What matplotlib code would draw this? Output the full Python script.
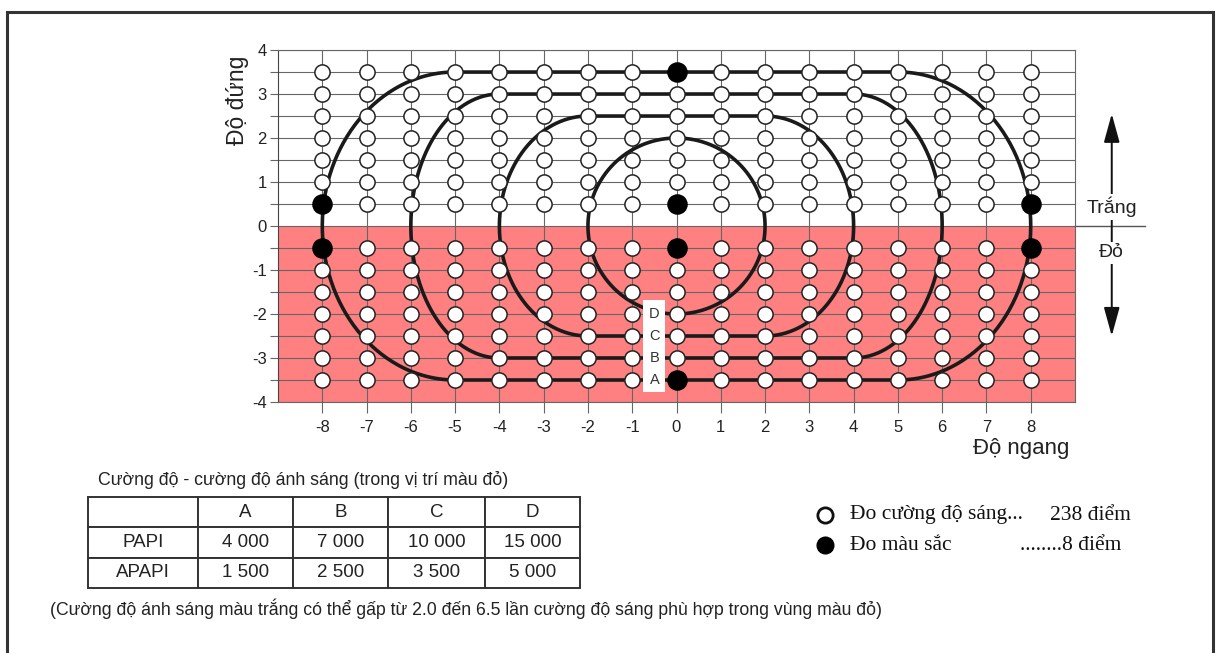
import numpy as np
import matplotlib
matplotlib.use("Agg")
import matplotlib.pyplot as plt
from matplotlib.patches import Rectangle

plt.rcParams['font.family'] = ['Liberation Sans', 'DejaVu Sans']
plt.rcParams['axes.unicode_minus'] = False

# ---------------- data ----------------
x_cols = list(range(-8, 9))
y_rows = [-3.5, -3.0, -2.5, -2.0, -1.5, -1.0, -0.5, 0.5, 1.0, 1.5, 2.0, 2.5, 3.0, 3.5]
color_x = [0, 0, 0, 0, -8, -8, 8, 8]
color_y = [3.5, 0.5, -0.5, -3.5, 0.5, -0.5, 0.5, -0.5]

curve_names = ['A', 'B', 'C', 'D']
curve_flat = [5, 4, 2, 0]        # half-length of straight top/bottom
curve_rx = [3, 2, 2, 2]          # horizontal radius of rounded ends
curve_ry = [3.5, 3, 2.5, 2]      # vertical half-height
label_y = [-3.5, -3.0, -2.5, -2.0]

x_ticks = list(range(-8, 9))
y_ticks = list(range(-4, 5))

tbl_cols = ['', 'A', 'B', 'C', 'D']
tbl_rows = ['PAPI', 'APAPI']
papi = [4000, 7000, 10000, 15000]
apapi = [1500, 2500, 3500, 5000]

n_intensity = 238
n_color = 8

# ---------------- figure ----------------
W, H = 1216, 653
fig = plt.figure(figsize=(W / 100, H / 100), dpi=100)

def fx(px):
    return px / W

def fy(py):
    return 1 - py / H

ax = fig.add_axes([fx(278), fy(402), fx(1075) - fx(278), fy(50) - fy(402)])
ax.set_xlim(-9, 9)
ax.set_ylim(-4, 4)

ax.axhspan(-4, 0, color='#FF8080', zorder=0, lw=0)

ax.set_xticks(x_ticks)
ax.set_yticks(y_ticks)
ax.set_yticks([v + 0.5 for v in y_ticks[:-1]], minor=True)
ax.grid(True, which='major', color='#666666', lw=0.8, zorder=1)
ax.grid(True, which='minor', axis='y', color='#666666', lw=0.8, zorder=1)
ax.set_axisbelow(True)
ax.tick_params(axis='x', which='major', length=8, width=0.8, color='#666666',
               labelsize=12, pad=5, labelcolor='#222222')
ax.tick_params(axis='y', which='both', length=6, width=0.8, color='#666666',
               labelsize=12, pad=2, labelcolor='#222222')
for s in ax.spines.values():
    s.set_color('#666666')
    s.set_linewidth(0.8)
ax.spines['left'].set_color('#444444')

# curves
for name, fl, rx, ry in zip(curve_names, curve_flat, curve_rx, curve_ry):
    t1 = np.linspace(-np.pi / 2, np.pi / 2, 200)
    t2 = np.linspace(np.pi / 2, 3 * np.pi / 2, 200)
    xs = np.concatenate([fl + rx * np.cos(t1), -fl + rx * np.cos(t2), [fl]])
    ys = np.concatenate([ry * np.sin(t1), ry * np.sin(t2), [-ry]])
    ax.plot(xs, ys, color='#1a1a1a', lw=2.6, zorder=3, solid_capstyle='round')

# measurement points
gx, gy = np.meshgrid(x_cols, y_rows)
ax.scatter(gx.ravel(), gy.ravel(), s=120, facecolor='white', edgecolor='#222222',
           linewidths=1.1, zorder=4)
ax.scatter(color_x, color_y, s=190, facecolor='black', edgecolor='black', zorder=5)

# D C B A label box
ax.add_patch(Rectangle((-0.75, -3.78), 0.5, 2.1, facecolor='white', edgecolor='none', zorder=3.5))
for name, yy in zip(curve_names, label_y):
    ax.text(-0.5, yy, name, ha='center', va='center', fontsize=10.5, color='#333333', zorder=6)

# axis labels
ax.text(-0.051, 0.858, 'Độ đứng', rotation=90, ha='center', va='center',
        fontsize=16.5, color='#222222', transform=ax.transAxes)
ax.text(0.933, -0.131, 'Độ ngang', ha='center', va='center',
        fontsize=16, color='#222222', transform=ax.transAxes)

# divider and arrows at right
ax.plot([9, 10.57], [0, 0], color='#555555', lw=1.0, clip_on=False, zorder=2)
ax.annotate('', xy=(9.83, 2.55), xytext=(9.83, -2.5),
            arrowprops=dict(arrowstyle='<|-|>,head_length=0.8,head_width=0.22',
                            color='#111111', lw=1.4,
                            mutation_scale=22, shrinkA=0, shrinkB=0),
            annotation_clip=False, zorder=2)
ax.text(9.83, 0.43, 'Trắng', ha='center', va='center', fontsize=14, color='#222222',
        bbox=dict(facecolor='white', edgecolor='none', pad=2), zorder=6, clip_on=False)
ax.text(9.83, -0.61, 'Đỏ', ha='center', va='center', fontsize=14, color='#222222',
        bbox=dict(facecolor='white', edgecolor='none', pad=2), zorder=6, clip_on=False)

# ---------------- table ----------------
fig.text(fx(98), fy(480), 'Cường độ - cường độ ánh sáng (trong vị trí màu đỏ)',
         ha='left', va='center', fontsize=12.8, color='#222222')

tax = fig.add_axes([fx(88), fy(588), fx(580) - fx(88), fy(497) - fy(588)])
tax.axis('off')

def fmt(v):
    return f"{v:,}".replace(',', ' ')

cell_text = [tbl_cols,
             [tbl_rows[0]] + [fmt(v) for v in papi],
             [tbl_rows[1]] + [fmt(v) for v in apapi]]
col_w = np.array([110, 95, 95, 97, 95], dtype=float)
col_w = list(col_w / col_w.sum())
tbl = tax.table(cellText=cell_text, cellLoc='center', colWidths=col_w,
                bbox=[0, 0, 1, 1])
tbl.auto_set_font_size(False)
for (r, c), cell in tbl.get_celld().items():
    cell.set_edgecolor('#333333')
    cell.set_linewidth(1.4)
    cell.get_text().set_fontsize(13.5)
    cell.get_text().set_color('#222222')

# ---------------- legend ----------------
fig.add_artist(plt.Line2D([fx(825)], [fy(515)], marker='o', ms=11, mfc='white',
                          mec='#111111', mew=2, ls='none', transform=fig.transFigure))
fig.add_artist(plt.Line2D([fx(825)], [fy(545)], marker='o', ms=12, mfc='black',
                          mec='black', ls='none', transform=fig.transFigure))
serif = ['Liberation Serif', 'DejaVu Serif']
fig.text(fx(850), fy(515), 'Đo cường độ sáng...', ha='left', va='center',
         fontsize=15.5, family=serif, color='#111111')
fig.text(fx(1050), fy(515), f'{n_intensity} điểm', ha='left', va='center',
         fontsize=15.5, family=serif, color='#111111')
fig.text(fx(850), fy(545), 'Đo màu sắc', ha='left', va='center',
         fontsize=15.5, family=serif, color='#111111')
fig.text(fx(1020), fy(545), f'........{n_color} điểm', ha='left', va='center',
         fontsize=15.5, family=serif, color='#111111')

# footnote
fig.text(fx(50), fy(609),
         '(Cường độ ánh sáng màu trắng có thể gấp từ 2.0 đến 6.5 lần cường độ sáng phù hợp trong vùng màu đỏ)',
         ha='left', va='center', fontsize=12.7, color='#222222')

# figure border
fig.add_artist(Rectangle((fx(7), -0.05), fx(1213) - fx(7), fy(12) + 0.05,
                         transform=fig.transFigure, fill=False, edgecolor='#333333', lw=2.2))

fig.savefig('out.png', dpi=100)
